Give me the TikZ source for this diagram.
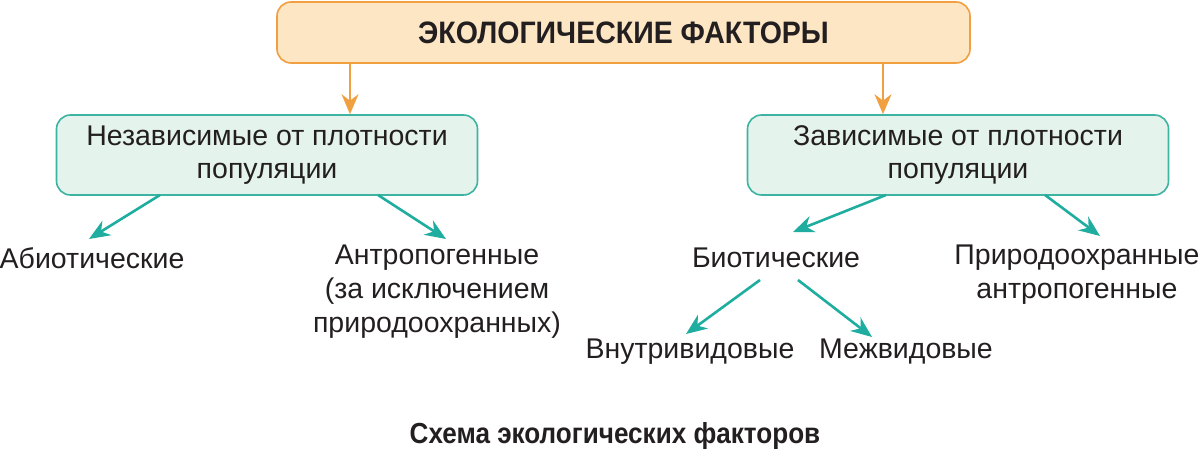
\documentclass[tikz,border=0pt]{standalone}
\usepackage{fontspec}
\setmainfont{Liberation Sans}
\newfontfamily\condfont[FakeStretch=0.92]{Liberation Sans}
\newfontfamily\capfont[FakeStretch=0.9]{Liberation Sans}
\usetikzlibrary{arrows.meta}
\definecolor{orfill}{HTML}{FDE6C4}
\definecolor{ordraw}{HTML}{F0A040}
\definecolor{grfill}{HTML}{E4F3EC}
\definecolor{grdraw}{HTML}{3DB3A2}
\definecolor{teal}{HTML}{1FADA0}
\definecolor{txt}{HTML}{231F20}
\tikzset{
  topbox/.style={draw=ordraw, fill=orfill, line width=1.6pt, rounded corners=14pt, minimum width=693pt, minimum height=61pt, inner sep=0pt, font=\condfont\bfseries\fontsize{31}{36}\selectfont, text=txt},
  grbox/.style={draw=grdraw, fill=grfill, line width=1.6pt, rounded corners=14pt, minimum width=421pt, minimum height=80pt, inner sep=0pt, align=center, font=\fontsize{28.5}{33}\selectfont, text=txt},
  lbl/.style={align=center, inner sep=0pt, font=\fontsize{28.5}{34}\selectfont, text=txt},
  orarrow/.style={draw=ordraw, line width=2.2pt, -{Stealth[length=20pt,width=17pt]}},
  tlarrow/.style={draw=teal, line width=2.6pt, -{Stealth[length=21pt,width=17pt]}},
  caption/.style={inner sep=0pt, font=\capfont\bfseries\fontsize{29}{34}\selectfont, text=txt}
}
\begin{document}
\begin{tikzpicture}[x=1pt,y=-1pt]
\useasboundingbox (0,0) rectangle (1200,452);
\node[topbox] (top) at (623.5,32.5) {ЭКОЛОГИЧЕСКИЕ ФАКТОРЫ};
\node[grbox] (lbox) at (267,155) {Независимые от плотности\\популяции};
\node[grbox] (rbox) at (958,155) {Зависимые от плотности\\популяции};
\node[lbl] (abio) at (92,258) {Абиотические};
\node[lbl] (antr) at (437,292) {Антропогенные\\(за исключением\\природоохранных)};
\node[lbl] (bio) at (776,258) {Биотические};
\node[lbl] (prir) at (1077,275) {Природоохранные\\антропогенные};
\node[lbl] (vnut) at (690,352) {Внутривидовые};
\node[lbl] (mezh) at (906,352) {Межвидовые};
\node[caption] (cap) at (615,436) {Схема экологических факторов};
\coordinate (l1) at (350,64);
\coordinate (r1) at (883,64);
\draw[orarrow] (l1) -- (l1 |- lbox.north);
\draw[orarrow] (r1) -- (r1 |- rbox.north);
\coordinate (la) at (160,195);
\coordinate (lb) at (378,195);
\coordinate (ra) at (886,195);
\coordinate (rb) at (1045,195);
\coordinate (ba) at (760,280);
\coordinate (bb) at (798,280);
\draw[tlarrow] (la) -- (89,239);
\draw[tlarrow] (lb) -- (446,239);
\draw[tlarrow] (ra) -- (793,232);
\draw[tlarrow] (rb) -- (1100,236);
\draw[tlarrow] (ba) -- (686,334);
\draw[tlarrow] (bb) -- (872,337);
\end{tikzpicture}
\end{document}
